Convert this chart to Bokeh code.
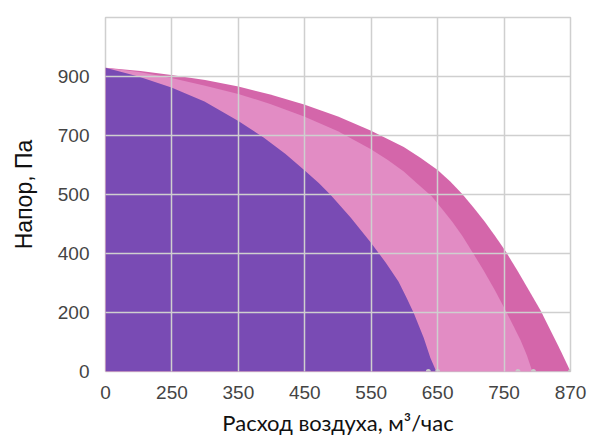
import numpy as np
from bokeh.plotting import figure
from bokeh.models import FixedTicker
from bokeh.embed import file_html
from bokeh.resources import INLINE

# Axis tick labels (the axes are evenly spaced, labels are not linear)
x_tick_values = [0, 250, 350, 450, 550, 650, 750, 870]
y_tick_values = [0, 200, 400, 500, 700, 900, 1100]
y_tick_labels = ["0", "200", "400", "500", "700", "900", ""]

# Curve 1 (outer, dark pink): flow m3/h, pressure Pa
flow_max = [0, 132, 248, 300, 350, 398, 449, 500, 549, 599, 624, 650, 669, 687,
            704, 721, 737, 754, 774, 794, 816, 834, 852, 870]
pres_max = [930, 919, 905, 888, 866, 839, 805, 764, 717, 661, 625, 583, 544, 502,
            478, 454, 429, 402, 342, 278, 207, 139, 71, 0]

# Curve 2 (middle, light pink)
flow_mid = [0, 132, 248, 300, 350, 398, 449, 500, 549, 575, 599, 620, 641, 657,
            672, 687, 702, 719, 736, 753, 767, 780, 791, 801]
pres_mid = [930, 914, 895, 869, 841, 807, 764, 714, 654, 617, 578, 536, 497, 475,
            454, 430, 403, 343, 276, 206, 154, 105, 56, 0]

# Curve 3 (inner, purple)
flow_min = [0, 124, 248, 299, 350, 388, 421, 449, 471, 489, 519, 549, 572, 591,
            603, 614, 629, 639, 648]
pres_min = [930, 900, 863, 815, 749, 693, 637, 583, 539, 499, 461, 419, 369, 305,
            251, 198, 114, 47, 0]

# End markers on the x axis
end_points = [636, 650, 775, 803, 870]

def xpos(v):
    return np.interp(v, x_tick_values, np.arange(len(x_tick_values)))

def ypos(v):
    return np.interp(v, y_tick_values, np.arange(len(y_tick_values)))

p = figure(frame_width=465, frame_height=354, output_backend="svg", toolbar_location=None,
           x_range=(0, len(x_tick_values) - 1), y_range=(0, len(y_tick_values) - 1),
           min_border_left=105, min_border_right=22, min_border_top=17, min_border_bottom=60)

series = [(flow_max, pres_max, "#d466aa"),
          (flow_mid, pres_mid, "#e28cc4"),
          (flow_min, pres_min, "#794bb4")]
for fx, py, col in series:
    xs = xpos(np.array(fx, dtype=float))
    ys = ypos(np.array(py, dtype=float))
    p.varea(x=xs, y1=np.zeros_like(ys), y2=ys, fill_color=col, fill_alpha=1.0)

p.scatter(x=xpos(np.array(end_points, dtype=float)), y=np.zeros(len(end_points)),
          size=5, fill_color="#c8c8c8", line_color=None)

p.xaxis.ticker = FixedTicker(ticks=list(range(len(x_tick_values))))
p.yaxis.ticker = FixedTicker(ticks=list(range(len(y_tick_values))))
p.xaxis.major_label_overrides = {i: str(v) for i, v in enumerate(x_tick_values)}
p.yaxis.major_label_overrides = {i: s for i, s in enumerate(y_tick_labels)}

for ax in (p.xaxis[0], p.yaxis[0]):
    ax.axis_line_color = None
    ax.major_tick_line_color = None
    ax.minor_tick_line_color = None
    ax.major_tick_in = 0
    ax.major_tick_out = 0
    ax.minor_tick_in = 0
    ax.minor_tick_out = 0
    ax.major_label_text_font = "Liberation Sans"
    ax.major_label_text_font_size = "19px"
    ax.major_label_text_color = "#444444"
    ax.axis_label_text_font_style = "normal"
    ax.axis_label_text_color = "#111111"

p.xaxis.axis_label = "Расход воздуха, м³/час"
p.xaxis.axis_label_text_font = "Lato"
p.xaxis.axis_label_text_font_size = "22px"
p.yaxis.axis_label = "Напор, Па"
p.yaxis.axis_label_text_font = "Liberation Sans"
p.yaxis.axis_label_text_font_size = "23px"
p.xaxis.major_label_standoff = 14
p.yaxis.major_label_standoff = 16
p.xaxis.axis_label_standoff = 7
p.yaxis.axis_label_standoff = 18

p.grid.grid_line_color = "#cfcfcf"
p.grid.grid_line_width = 1.5
p.grid.level = "overlay"
p.outline_line_color = "#cfcfcf"
p.outline_line_width = 1.5
p.background_fill_color = "white"
p.border_fill_color = "white"

open("out.html", "w").write(file_html(p, INLINE))
